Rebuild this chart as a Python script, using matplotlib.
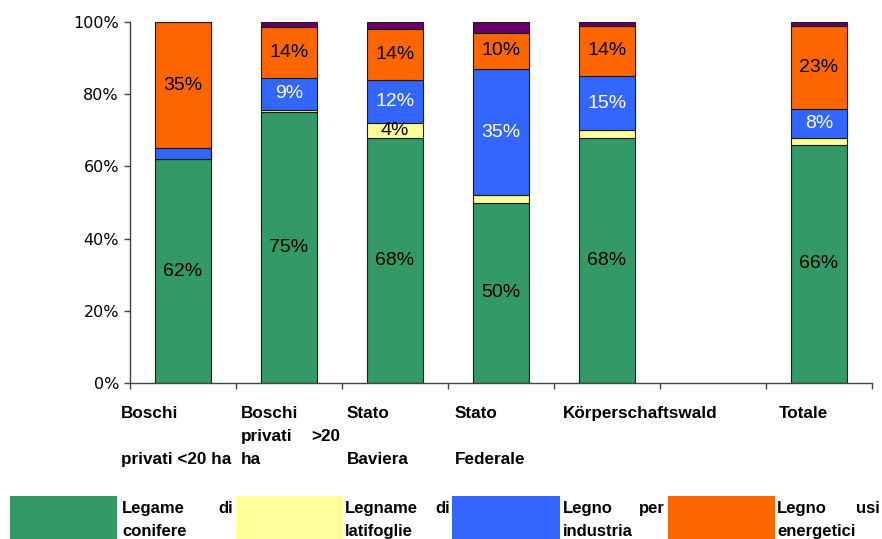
import numpy as np
import matplotlib
matplotlib.use("Agg")
import matplotlib.pyplot as plt
from matplotlib.patches import Rectangle

plt.rcParams['font.family'] = ['Liberation Sans', 'DejaVu Sans']

# ---- data (percent of harvest by assortment) ----
slots = [0, 1, 2, 3, 4, 6]          # slot 5 is left empty in the original
conifere   = [62, 75, 68, 50, 68, 66]
latifoglie = [0, 0.6, 4, 2, 2, 2]
industria  = [3, 9, 12, 35, 15, 8]
energetici = [35, 14, 14, 10, 14, 23]
altro      = [0, 1.4, 2, 3, 1, 1]

# category labels, one list of rows per bar (rows: 0, 1, 2)
cat_rows = [
    [("Boschi", None), None, ("privati <20 ha", None)],
    [("Boschi", None), ("privati", ">20"), ("ha", None)],
    [("Stato", None), None, ("Baviera", None)],
    [("Stato", None), None, ("Federale", None)],
    [("Körperschaftswald", None)],
    [("Totale", None)],
]
cat_x_px = [121, 241, 347, 455, 563, 779]   # left edge of label text
cat_right_px = [None, 340, None, None, None, None]

legend_labels = [("Legame", "di", "conifere"),
                 ("Legname", "di", "latifoglie"),
                 ("Legno", "per", "industria"),
                 ("Legno", "usi", "energetici")]

GREEN, YELLOW, BLUE, ORANGE, PURPLE = "#339966", "#FFFF99", "#3366FF", "#FF6600", "#660066"
series = [
    (conifere, GREEN, "black"),
    (latifoglie, YELLOW, "black"),
    (industria, BLUE, "white"),
    (energetici, ORANGE, "black"),
    (altro, PURPLE, None),
]

W, H = 882, 539
fig = plt.figure(figsize=(W / 100, H / 100), dpi=100)
ax_l, ax_r, ax_t, ax_b = 130, 872, 22, 383
ax = fig.add_axes([ax_l / W, 1 - ax_b / H, (ax_r - ax_l) / W, (ax_b - ax_t) / H])

bottom = np.zeros(len(slots))
for vals, col, tcol in series:
    vals = np.array(vals, dtype=float)
    ax.bar(slots, vals, width=0.53, bottom=bottom, color=col,
           edgecolor="#1a1a1a", linewidth=0.8, zorder=2)
    if tcol is not None:
        for x, b, v in zip(slots, bottom, vals):
            if v >= 3.5:
                ax.text(x, b + v / 2, f"{v:.0f}%", ha="center", va="center",
                        color=tcol, fontsize=14, zorder=3)
    bottom += vals

ax.set_xlim(-0.5, 6.5)
ax.set_ylim(0, 100)
ax.set_yticks(range(0, 101, 20))
ax.set_yticklabels([f"{t}%" for t in range(0, 101, 20)],
                   fontsize=11.5, family=['DejaVu Sans'])
ax.set_xticks(np.arange(-0.5, 7, 1))
ax.set_xticklabels([])
for s in ("top", "right"):
    ax.spines[s].set_visible(False)
for s in ("left", "bottom"):
    ax.spines[s].set_color("#444444")
    ax.spines[s].set_linewidth(1.0)
ax.tick_params(axis="both", direction="out", length=4, width=1.0,
               color="#444444", pad=4)

# category labels (bold, justified rows like the source)
row_base_px = [417.7, 440.7, 463.7]
for rows, xl, xr in zip(cat_rows, cat_x_px, cat_right_px):
    for r, item in enumerate(rows):
        if item is None:
            continue
        left, right = item
        yb = 1 - row_base_px[r] / H
        fig.text(xl / W, yb, left, ha="left", va="baseline",
                 fontsize=12.3, fontweight="bold")
        if right is not None:
            fig.text(xr / W, yb, right, ha="right", va="baseline",
                     fontsize=12.3, fontweight="bold")

# legend at the bottom, cut by the figure edge
leg_colors = [GREEN, YELLOW, BLUE, ORANGE]
rect_px = [(10, 117), (236, 343), (452, 560), (668, 775)]
text_px = [(122, 233), (345, 450), (563, 665), (777, 880)]
top_px = 496
for col, (r0, r1), (t0, t1), (w1, w2, w3) in zip(leg_colors, rect_px, text_px, legend_labels):
    fig.patches.append(Rectangle((r0 / W, 0), (r1 - r0) / W, 1 - top_px / H,
                                 transform=fig.transFigure, facecolor=col,
                                 edgecolor="none"))
    fig.text(t0 / W, 1 - 513.3 / H, w1, ha="left", va="baseline",
             fontsize=12, fontweight="bold")
    fig.text(t1 / W, 1 - 513.3 / H, w2, ha="right", va="baseline",
             fontsize=12, fontweight="bold")
    fig.text(t0 / W, 1 - 536 / H, w3, ha="left", va="baseline",
             fontsize=12, fontweight="bold")

fig.savefig("out.png", dpi=100)
